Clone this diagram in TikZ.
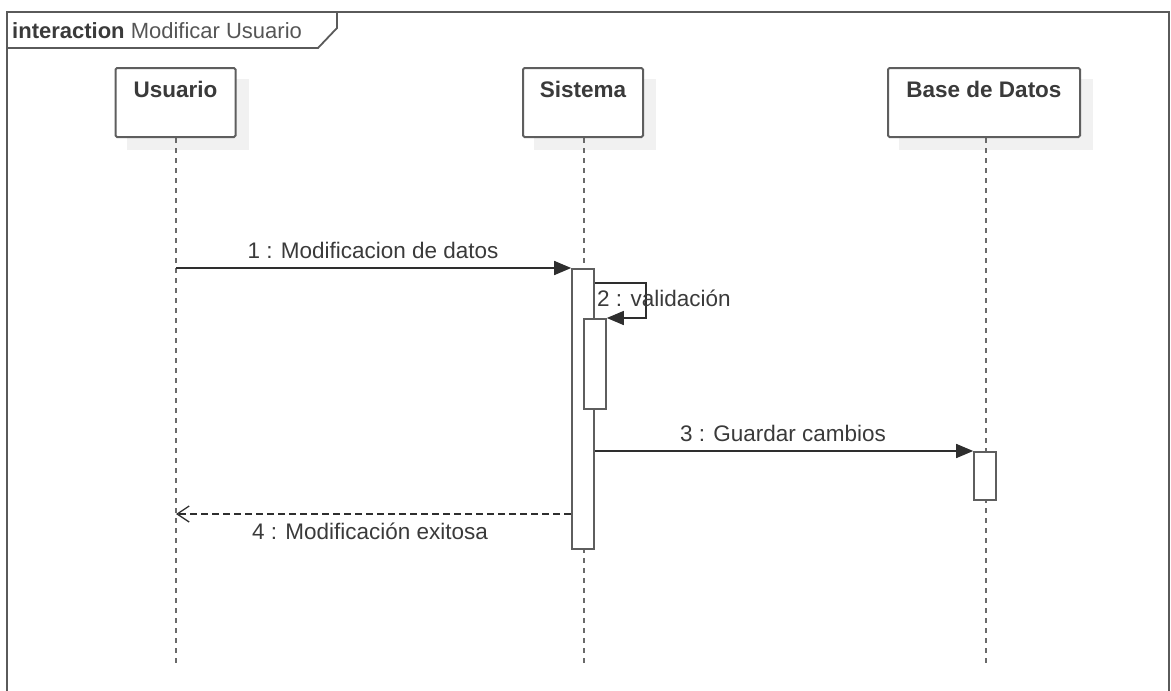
\documentclass[tikz,border=0pt]{standalone}
\usepackage{fontspec}
\setmainfont{Liberation Sans}
\usetikzlibrary{arrows.meta,calc,backgrounds}
\definecolor{framec}{HTML}{5A5A5A}
\definecolor{boxc}{HTML}{5E5E5E}
\definecolor{msgc}{HTML}{2E2E2E}
\definecolor{lifec}{HTML}{6A6A6A}
\definecolor{shadowc}{HTML}{F1F1F1}
\definecolor{txtc}{HTML}{3A3A3A}
\definecolor{subtxt}{HTML}{555555}
\tikzset{
  framestyle/.style={draw=framec, line width=1.8pt},
  head/.style={draw=boxc, fill=white, line width=2pt, rounded corners=1.5pt,
               minimum height=69pt, inner sep=0pt},
  headtext/.style={anchor=north, inner sep=0pt, font=\fontsize{22.5}{27}\selectfont\bfseries, text=txtc},
  life/.style={draw=lifec, line width=1.8pt, dash pattern=on 5pt off 5pt},
  act/.style={draw=boxc, fill=white, line width=1.6pt, minimum width=22pt,
              inner sep=0pt, anchor=north},
  msg/.style={draw=msgc, line width=1.5pt},
  call/.style={msg, -{Triangle[length=17pt,width=14pt]}},
  reply/.style={msg, dash pattern=on 7pt off 4pt, -{Straight Barb[length=12pt,width=16pt,line width=1.3pt]}},
  lbl/.style={inner sep=0pt, font=\fontsize{22.5}{27}\selectfont, text=txtc},
}
\begin{document}
\begin{tikzpicture}[x=1pt,y=-1pt]
\useasboundingbox (0,0) rectangle (1171,691);

% interaction frame with its name tab
\draw[framestyle] (7,691) -- (7,12) -- (1169,12) -- (1169,691);
\draw[framestyle] (7,48) -- (318,48) -- (337,28) -- (337,12);
\node[anchor=west, inner sep=0pt, font=\fontsize{22}{26}\selectfont] (title) at (12,31)
  {\textcolor{txtc}{\bfseries interaction} \textcolor{subtxt}{Modificar Usuario}};

% lifeline heads
\node[head, minimum width=120pt] (usr) at (175.5,102.5) {};
\node[head, minimum width=120pt] (sys) at (583,102.5) {};
\node[head, minimum width=192pt] (db)  at (984,102.5) {};
\node[headtext, yshift=-14pt] (usrT) at (usr.north) {Usuario};
\node[headtext, yshift=-14pt] (sysT) at (sys.north) {Sistema};
\node[headtext, yshift=-14pt] (dbT)  at (db.north)  {Base de Datos};

\begin{scope}[on background layer]
  \foreach \n in {usr,sys,db}
    \fill[shadowc] ($(\n.south west)+(12,12)$) rectangle ($(\n.north east)+(12,12)$);
\end{scope}

% lifelines
\coordinate (usrEnd) at (176,666);
\coordinate (sysEnd) at (584,666);
\coordinate (dbEnd)  at (986,666);
\begin{scope}[on background layer]
  \draw[life] (usr.south -| usrEnd) -- (usrEnd);
  \draw[life] (sys.south -| sysEnd) -- (sysEnd);
  \draw[life] (db.south -| dbEnd) -- (dbEnd);
\end{scope}

% activation bars
\node[act, minimum height=280pt] (sysA) at (583,268) {};
\node[act, minimum height=90pt]  (nestA) at (595,318) {};
\node[act, minimum height=48pt]  (dbA) at (985,451) {};

% messages
\draw[call] (usrEnd |- sysA.north) -- (sysA.north west);
\node[lbl] (m1) at (373,250) {1 : Modificacion de datos};

\coordinate (loopR) at (646,283);
\draw[call] (sysA.east |- loopR) -- (loopR) |- (nestA.north east);
\node[lbl, anchor=west] (m2) at (597,298) {2 : validación};

\draw[call] (sysA.east |- dbA.north) -- (dbA.north west);
\node[lbl] (m3) at (783,433) {3 : Guardar cambios};

\coordinate (retY) at (0,514);
\draw[reply] (sysA.west |- retY) -- (usrEnd |- retY);
\node[lbl] (m4) at (370,531) {4 : Modificación exitosa};
\end{tikzpicture}
\end{document}
